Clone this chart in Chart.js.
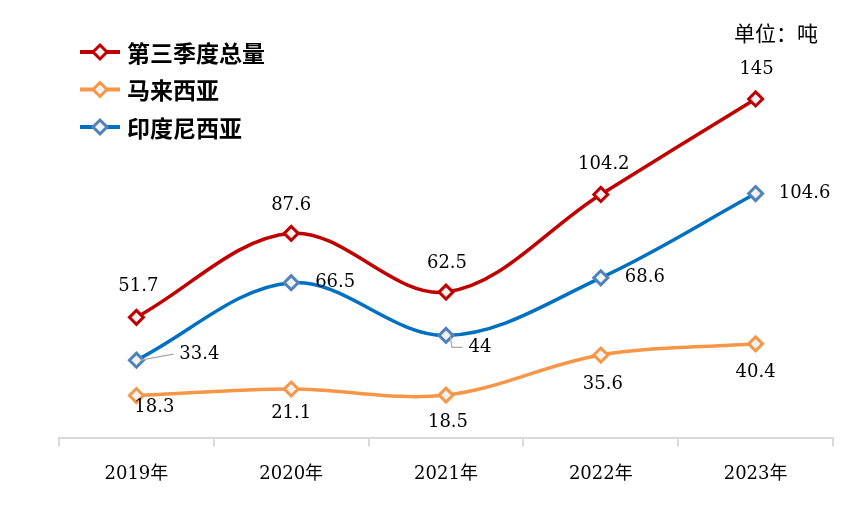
<!DOCTYPE html>
<html>
<head>
<meta charset="utf-8">
<script src="https://cdn.jsdelivr.net/npm/chart.js@4/dist/chart.umd.min.js"></script>
<style>
  html, body { margin: 0; padding: 0; background: #fff; }
  #wrap { width: 859px; height: 531px; }
</style>
</head>
<body>
<div id="wrap"><canvas id="c" width="859" height="531"></canvas></div>
<script>
// data (unit: tonnes)
const years = ['2019年', '2020年', '2021年', '2022年', '2023年'];
const q3Total = [51.7, 87.6, 62.5, 104.2, 145];
const malaysia = [18.3, 21.1, 18.5, 35.6, 40.4];
const indonesia = [33.4, 66.5, 44, 68.6, 104.6];

const NUM_FONT = '"DejaVu Serif", "Noto Sans CJK SC", serif';
const CJK_FONT = '"Noto Sans CJK SC", sans-serif';

// where each value label sits relative to its marker [dx, dy, leader?]
const labelPlacement = [
  [[2, -31], [0, -28], [1, -29], [3, -30], [1, -30]],
  [[18, 12], [0, 24], [2, 27], [2, 29], [0, 29]],
  [[63, -6, true], [44, 0], [34, 12, true], [44, 0], [49, 0]],
];

const valueLabels = {
  id: 'valueLabels',
  afterDatasetsDraw(chart) {
    const ctx = chart.ctx;
    ctx.save();
    ctx.font = '18px ' + NUM_FONT;
    ctx.fillStyle = '#000';
    ctx.textAlign = 'center';
    ctx.textBaseline = 'middle';
    chart.data.datasets.forEach((ds, i) => {
      const meta = chart.getDatasetMeta(i);
      meta.data.forEach((pt, j) => {
        const [dx, dy, leader] = labelPlacement[i][j];
        const lx = pt.x + dx, ly = pt.y + dy;
        const txt = String(ds.data[j]);
        if (leader) {
          const w = ctx.measureText(txt).width;
          ctx.strokeStyle = '#a6a6a6';
          ctx.lineWidth = 1.2;
          ctx.beginPath();
          ctx.moveTo(pt.x + 4, pt.y);
          if (dy > 0) {
            ctx.lineTo(pt.x + 6, ly);
            ctx.lineTo(lx - w / 2 - 6, ly);
          } else {
            ctx.lineTo(lx - w / 2 - 6, ly);
          }
          ctx.stroke();
        }
        ctx.fillText(txt, lx, ly);
      });
    });
    ctx.restore();
  }
};

const sideLegend = {
  id: 'sideLegend',
  afterDraw(chart) {
    const ctx = chart.ctx;
    ctx.save();
    chart.data.datasets.forEach((ds, i) => {
      const y = 52 + i * 37.5;
      ctx.strokeStyle = ds.borderColor;
      ctx.lineWidth = 4;
      ctx.beginPath();
      ctx.moveTo(80, y);
      ctx.lineTo(120, y);
      ctx.stroke();
      ctx.fillStyle = ds.pointBackgroundColor;
      ctx.strokeStyle = ds.pointBorderColor;
      ctx.lineWidth = 3;
      ctx.beginPath();
      ctx.moveTo(100, y - 7);
      ctx.lineTo(107, y);
      ctx.lineTo(100, y + 7);
      ctx.lineTo(93, y);
      ctx.closePath();
      ctx.fill();
      ctx.stroke();
      ctx.fillStyle = '#000';
      ctx.font = 'bold 23px ' + CJK_FONT;
      ctx.textAlign = 'left';
      ctx.textBaseline = 'middle';
      ctx.fillText(ds.label, 127, y + 1);
    });
    ctx.font = '21px ' + CJK_FONT;
    ctx.textAlign = 'center';
    ctx.textBaseline = 'middle';
    ctx.fillStyle = '#000';
    ctx.fillText('单位：吨', 776, 33);
    ctx.restore();
  }
};

function series(label, data, line, marker, order) {
  return {
    label, data, order,
    borderColor: line,
    borderWidth: 3.5,
    tension: 0.35,
    pointStyle: 'rectRot',
    pointRadius: 7,
    pointHoverRadius: 7,
    pointBorderWidth: 3,
    pointBorderColor: marker,
    pointBackgroundColor: '#f2f2f2',
  };
}

new Chart(document.getElementById('c'), {
  type: 'line',
  data: {
    labels: years,
    datasets: [
      series('第三季度总量', q3Total, '#c00000', '#c00000', 1),
      series('马来西亚', malaysia, '#f79646', '#f79646', 3),
      series('印度尼西亚', indonesia, '#0070c0', '#4f81bd', 2),
    ],
  },
  options: {
    responsive: false,
    animation: false,
    layout: { padding: { left: 59, right: 26, top: 17, bottom: 29 } },
    plugins: { legend: { display: false }, tooltip: { enabled: false } },
    scales: {
      y: { display: false, min: 0, max: 180 },
      x: {
        offset: true,
        grid: { display: true, drawOnChartArea: false, offset: true, tickLength: 8, color: '#d9d9d9', lineWidth: 2 },
        border: { color: '#d9d9d9', width: 2 },
        ticks: { color: '#000', padding: 17, font: { family: NUM_FONT, size: 18 } },
      },
    },
  },
  plugins: [valueLabels, sideLegend],
});
</script>
</body>
</html>
